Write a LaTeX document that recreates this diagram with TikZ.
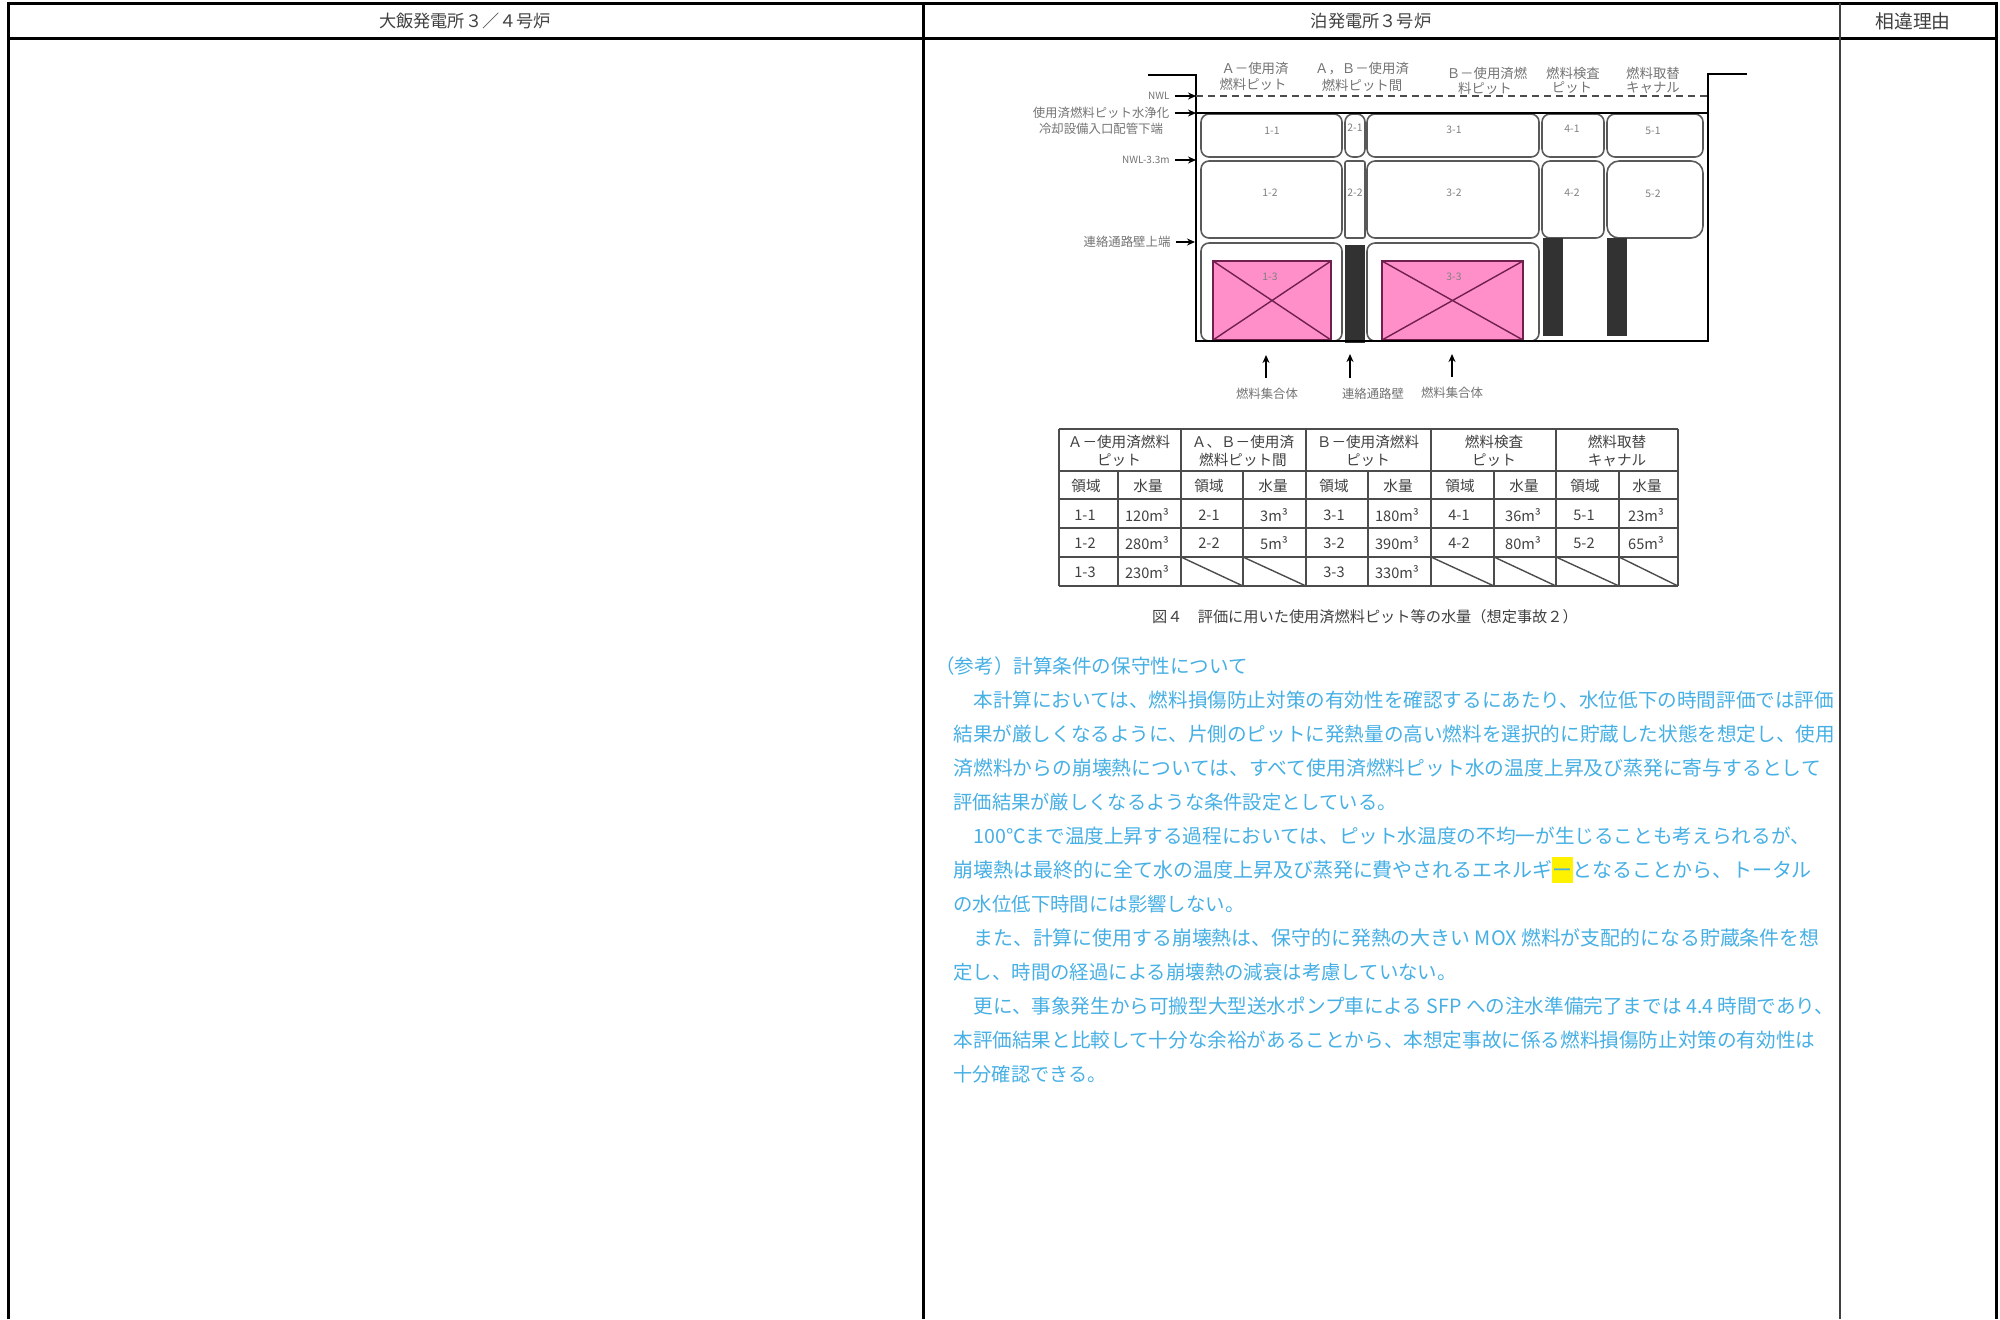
\documentclass[tikz,border=0pt]{standalone}
\usepackage{fontspec}
\setmainfont{Noto Sans CJK JP}
\usetikzlibrary{arrows.meta}
\definecolor{bodyblue}{RGB}{70,175,228}
\definecolor{pinkfill}{RGB}{255,143,200}
\definecolor{pinkline}{RGB}{112,32,80}
\definecolor{darkbar}{RGB}{50,50,50}
\tikzset{
  frameline/.style={line width=1.5pt,black},
  collight/.style={line width=1pt,black!75},
  headtext/.style={font=\fontsize{8.6}{11}\selectfont,text=black!75,inner sep=0pt},
  pitbox/.style={draw=black!65,line width=.8pt,rounded corners=4pt},
  wall/.style={line width=1.3pt,black},
  fuelbox/.style={fill=pinkfill,draw=pinkline,line width=.7pt},
  barfill/.style={fill=darkbar,draw=none},
  arr/.style={-{Stealth[length=4pt,width=3.5pt]},line width=.7pt,black},
  difflabel/.style={font=\fontsize{6.2}{7.5}\selectfont,text=black!55,inner sep=2.5pt},
  toplabel/.style={font=\fontsize{6.7}{8}\selectfont,text=black!55,inner sep=0pt},
  arealabel/.style={font=\fontsize{5.2}{6}\selectfont,text=black!50,inner sep=0pt},
  tabline/.style={line width=.7pt,black!70},
  tabtext/.style={font=\fontsize{7.3}{9}\selectfont,text=black!75,inner sep=0pt},
  captiontext/.style={font=\fontsize{7.6}{9}\selectfont,text=black!75,inner sep=0pt},
  bodyline/.style={anchor=west,inner sep=0pt,text height=7.5pt,text depth=1.5pt,
    font=\fontsize{#1}{12}\selectfont,text=bodyblue},
}
\begin{document}
\begin{tikzpicture}[x=0.5pt,y=-0.5pt]
\useasboundingbox (0,0) rectangle (2000,1319);
% outer frame
\draw[frameline] (8,1319) -- (8,3) -- (1996,3) -- (1996,1319);
\draw[frameline] (8,38) -- (1996,38);
\draw[frameline] (923,3) -- (923,1319);
\draw[collight] (1840,3) -- (1840,1319);
\node[headtext] (h1) at (465,21) {大飯発電所３／４号炉};
\node[headtext] (h2) at (1371,21) {泊発電所３号炉};
\node[headtext,font=\fontsize{9.4}{11}\selectfont] (h3) at (1913,21) {相違理由};

% pit boxes
\draw[pitbox] (1201,114) rectangle (1342,157);
\draw[pitbox] (1345,114) rectangle (1365,157);
\draw[pitbox] (1367,114) rectangle (1539,157);
\draw[pitbox] (1542,114) rectangle (1604,157);
\draw[pitbox] (1607,114) rectangle (1703,157);
\draw[pitbox] (1201,161) rectangle (1342,238);
\draw[pitbox,rounded corners=1pt] (1345,161) rectangle (1365,238);
\draw[pitbox] (1367,161) rectangle (1539,238);
\draw[pitbox] (1542,161) rectangle (1604,238);
\draw[pitbox,rounded corners=6pt] (1607,161) rectangle (1703,238);
\draw[pitbox] (1201,243) rectangle (1342,341);
\draw[pitbox] (1367,243) rectangle (1539,341);
% fuel
\draw[fuelbox] (1213,261) rectangle (1331,340);
\draw[fuelbox] (1213,261) -- (1331,340) (1331,261) -- (1213,340);
\draw[fuelbox] (1382,261) rectangle (1523,340);
\draw[fuelbox] (1382,261) -- (1523,340) (1523,261) -- (1382,340);
% bars
\fill[barfill] (1345,245) rectangle (1365,343);
\fill[barfill] (1543,238) rectangle (1563,336);
\fill[barfill] (1607,238) rectangle (1627,336);
% walls
\draw[wall] (1148,75) -- (1196,75) -- (1196,341) -- (1708,341) -- (1708,74) -- (1747,74);
\draw[wall] (1196,113) -- (1708,113);
\draw[line width=.7pt,black!70,dash pattern=on 3.5pt off 2.5pt] (1196,96) -- (1708,96);

% area labels
\foreach \n/\x/\y in {1-1/1272/131,2-1/1355/128,3-1/1454/130,4-1/1572/129,5-1/1653/131,
  1-2/1270/193,2-2/1355/193,3-2/1454/193,4-2/1572/193,5-2/1653/194,1-3/1270/277,3-3/1454/277}
  \node[arealabel] (area\n) at (\x,\y) {\n};

% top labels
\node[toplabel] (ta1) at (1255,68) {Ａ－使用済};
\node[toplabel] (ta2) at (1253,84) {燃料ピット};
\node[toplabel] (tb1) at (1362,69) {Ａ，Ｂ－使用済};
\node[toplabel] (tb2) at (1362,85) {燃料ピット間};
\node[toplabel] (tc1) at (1487,73) {Ｂ－使用済燃};
\node[toplabel] (tc2) at (1485,88) {料ピット};
\node[toplabel] (td1) at (1573,73) {燃料検査};
\node[toplabel] (td2) at (1572,88) {ピット};
\node[toplabel] (te1) at (1653,73) {燃料取替};
\node[toplabel] (te2) at (1653,88) {キャナル};

% left labels and arrows
\coordinate (pA) at (1196,96);
\coordinate (pB) at (1196,113);
\coordinate (pC) at (1196,160);
\coordinate (pD) at (1195,242);
\node[difflabel,anchor=east,font=\fontsize{5}{6}\selectfont] (lA) at (1175,96) {NWL};
\node[difflabel] (lB) at (1101,113) {使用済燃料ピット水浄化};
\node[difflabel] (lB2) at (1101,129) {冷却設備入口配管下端};
\node[difflabel,anchor=east,font=\fontsize{5}{6}\selectfont] (lC) at (1175,160) {NWL-3.3m};
\node[difflabel] (lD) at (1127,242) {連絡通路壁上端};
\draw[arr] (lA) -- (pA);
\draw[arr] (lB) -- (pB);
\draw[arr] (lC) -- (pC);
\draw[arr] (lD) -- (pD);

% bottom labels and arrows
\node[difflabel] (bA) at (1267,394) {燃料集合体};
\node[difflabel] (bB) at (1373,394) {連絡通路壁};
\node[difflabel] (bC) at (1452,393) {燃料集合体};
\coordinate (sA) at (1266,378); \coordinate (eA) at (1266,355);
\coordinate (sB) at (1350,378); \coordinate (eB) at (1350,354);
\coordinate (sC) at (1452,377); \coordinate (eC) at (1452,354);
\draw[arr] (sA) -- (eA);
\draw[arr] (sB) -- (eB);
\draw[arr] (sC) -- (eC);

% table
\foreach \yy in {429,471,499,528,557,586} \draw[tabline] (1059,\yy) -- (1678,\yy);
\foreach \xx in {1059,1181,1306,1431,1556,1678} \draw[tabline] (\xx,429) -- (\xx,586);
\foreach \xx in {1118,1243,1368,1494,1619} \draw[tabline] (\xx,471) -- (\xx,586);
\foreach \xa/\xb in {1181/1243,1243/1306,1431/1494,1494/1556,1556/1619,1619/1678}
  \draw[tabline] (\xa,557) -- (\xb,586);
\foreach \k/\x/\a/\b in {a/1119/Ａ－使用済燃料/ピット,b/1243/Ａ、Ｂ－使用済/燃料ピット間,
    c/1368/Ｂ－使用済燃料/ピット,d/1494/燃料検査/ピット,e/1617/燃料取替/キャナル}{
  \node[tabtext] (hd\k1) at (\x,442) {\a};
  \node[tabtext] (hd\k2) at (\x,460) {\b};
}
\foreach \k/\x in {a/1086,b/1209,c/1334,d/1460,e/1585}
  \node[tabtext] (ar\k) at (\x,486) {領域};
\foreach \k/\x in {a/1148,b/1273,c/1398,d/1524,e/1647}
  \node[tabtext] (vo\k) at (\x,486) {水量};
\foreach \k/\x/\t in {a/1085/1-1,b/1209/2-1,c/1334/3-1,d/1459/4-1,e/1584/5-1}
  \node[tabtext] (ra\k) at (\x,515) {\t};
\foreach \k/\x/\t in {a/1147/120m³,b/1274/3m³,c/1397/180m³,d/1523/36m³,e/1646/23m³}
  \node[tabtext] (va\k) at (\x,515) {\t};
\foreach \k/\x/\t in {a/1085/1-2,b/1209/2-2,c/1334/3-2,d/1459/4-2,e/1584/5-2}
  \node[tabtext] (rb\k) at (\x,543) {\t};
\foreach \k/\x/\t in {a/1147/280m³,b/1274/5m³,c/1397/390m³,d/1523/80m³,e/1646/65m³}
  \node[tabtext] (vb\k) at (\x,543) {\t};
\node[tabtext] (rca) at (1085,572) {1-3};
\node[tabtext] (vca) at (1147,572) {230m³};
\node[tabtext] (rcc) at (1334,572) {3-3};
\node[tabtext] (vcc) at (1397,572) {330m³};
\node[captiontext] (cap) at (1365,617) {図４　評価に用いた使用済燃料ピット等の水量（想定事故２）};

% body text
\node[bodyline=9.78] (t0) at (935,667) {（参考）計算条件の保守性について};
\node[bodyline=9.8] (t1) at (973,701) {本計算においては、燃料損傷防止対策の有効性を確認するにあたり、水位低下の時間評価では評価};
\node[bodyline=9.8] (t2) at (953,735) {結果が厳しくなるように、片側のピットに発熱量の高い燃料を選択的に貯蔵した状態を想定し、使用};
\node[bodyline=9.9] (t3) at (953,769) {済燃料からの崩壊熱については、すべて使用済燃料ピット水の温度上昇及び蒸発に寄与するとして};
\node[bodyline=9.65] (t4) at (953,803) {評価結果が厳しくなるような条件設定としている。};
\node[bodyline=9.82] (t5) at (973,837) {100℃まで温度上昇する過程においては、ピット水温度の不均一が生じることも考えられるが、};
\fill[yellow] (1552,857) rectangle (1573,883);
\node[bodyline=9.99] (t6) at (953,871) {崩壊熱は最終的に全て水の温度上昇及び蒸発に費やされるエネルギーとなることから、トータル};
\node[bodyline=9.7] (t7) at (953,905) {の水位低下時間には影響しない。};
\node[bodyline=9.94] (t8) at (973,939) {また、計算に使用する崩壊熱は、保守的に発熱の大きい MOX 燃料が支配的になる貯蔵条件を想};
\node[bodyline=9.7] (t9) at (953,973) {定し、時間の経過による崩壊熱の減衰は考慮していない。};
\node[bodyline=9.8] (t10) at (973,1007) {更に、事象発生から可搬型大型送水ポンプ車による SFP への注水準備完了までは 4.4 時間であり、};
\node[bodyline=9.8] (t11) at (953,1041) {本評価結果と比較して十分な余裕があることから、本想定事故に係る燃料損傷防止対策の有効性は};
\node[bodyline=9.6] (t12) at (953,1075) {十分確認できる。};
\end{tikzpicture}
\end{document}
